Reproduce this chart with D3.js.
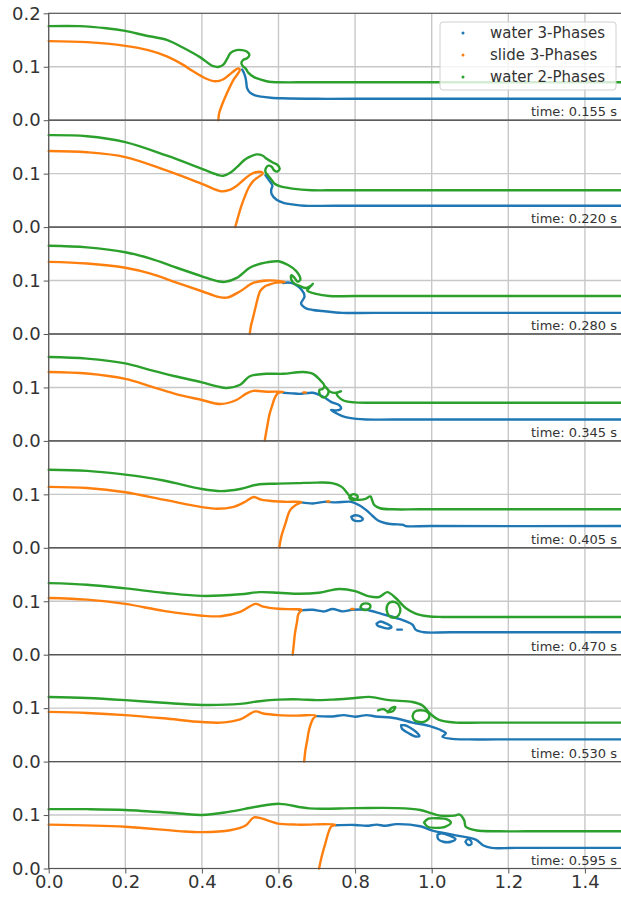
<!DOCTYPE html>
<html><head><meta charset="utf-8">
<script src="https://cdnjs.cloudflare.com/ajax/libs/d3/7.8.5/d3.min.js"></script>
<style>body{margin:0;background:#fff}svg{display:block}</style>
</head><body>
<svg id="chart" width="621" height="899"></svg>
<script>
// ---------------- data ----------------
const times = ["0.155","0.220","0.280","0.345","0.405","0.470","0.530","0.595"];
const seriesNames = ["water 3-Phases","slide 3-Phases","water 2-Phases"];
const xTicks = [0.0,0.2,0.4,0.6,0.8,1.0,1.2,1.4];
const yTicksTop = [0.0,0.1,0.2];
const yTicks = [0.0,0.1];

// water 3-Phases (blue): per panel, list of polylines [x,y]
const water3 = [
 [[[0.505,0.095],[0.51,0.088],[0.514,0.079],[0.516,0.070],[0.518,0.060],[0.525,0.052],[0.537,0.047],[0.555,0.044],[0.58,0.042],[0.61,0.041],[0.7,0.040],[0.8,0.040],[1.5,0.040]]],
 [[[0.566,0.097],[0.575,0.088],[0.584,0.078],[0.581,0.070],[0.582,0.062],[0.595,0.051],[0.615,0.045],[0.636,0.0425],[0.667,0.040],[0.75,0.040],[1.5,0.040]]],
 [[[0.612,0.0955],[0.633,0.0955],[0.66,0.083],[0.668,0.070],[0.659,0.057],[0.672,0.048],[0.69,0.045],[0.715,0.043],[0.767,0.0395],[0.85,0.0395],[1.5,0.0395]]],
 [[[0.612,0.090],[0.635,0.089],[0.655,0.088],[0.69,0.090],[0.716,0.083],[0.737,0.073],[0.76,0.066],[0.763,0.060],[0.752,0.057],[0.737,0.058],[0.745,0.054],[0.765,0.047],[0.785,0.043],[0.828,0.040],[0.9,0.040],[1.5,0.040]]],
 [[[0.66,0.085],[0.69,0.083],[0.72,0.086],[0.75,0.085],[0.79,0.086],[0.81,0.080],[0.83,0.070],[0.845,0.060],[0.86,0.051],[0.88,0.046],[0.9,0.044],[0.926,0.043],[0.93,0.041],[1.0,0.0407],[1.5,0.0407]],
  [[0.79,0.058],[0.80,0.061],[0.815,0.058],[0.82,0.053],[0.81,0.050],[0.795,0.052],[0.79,0.058]]],
 [[[0.654,0.083],[0.689,0.084],[0.72,0.081],[0.741,0.0855],[0.767,0.081],[0.793,0.084],[0.828,0.084],[0.871,0.076],[0.915,0.067],[0.95,0.056],[0.958,0.047],[0.98,0.042],[1.05,0.042],[1.5,0.042]],
  [[0.856,0.058],[0.866,0.062],[0.882,0.058],[0.895,0.052],[0.888,0.049],[0.872,0.051],[0.858,0.055],[0.856,0.058]],
  [[0.91,0.047],[0.922,0.047]]],
 [[[0.697,0.085],[0.741,0.0845],[0.77,0.087],[0.8,0.084],[0.83,0.087],[0.854,0.0845],[0.906,0.081],[0.95,0.073],[0.993,0.067],[1.019,0.0605],[1.037,0.053],[1.028,0.0465],[1.054,0.0425],[1.097,0.0415],[1.17,0.0415],[1.5,0.0415]],
  [[0.92,0.068],[0.93,0.068],[0.945,0.063],[0.96,0.055],[0.968,0.048],[0.958,0.047],[0.94,0.053],[0.922,0.062],[0.92,0.068]]],
 [[[0.748,0.081],[0.8,0.0815],[0.83,0.080],[0.856,0.082],[0.88,0.080],[0.908,0.083],[0.97,0.079],[1.0,0.0715],[1.063,0.062],[1.115,0.054],[1.135,0.043],[1.156,0.0386],[1.22,0.0386],[1.5,0.0386]],
  [[1.015,0.063],[1.025,0.066],[1.045,0.062],[1.062,0.055],[1.05,0.050],[1.03,0.050],[1.017,0.055],[1.015,0.063]],
  [[1.088,0.050],[1.094,0.055],[1.102,0.052],[1.104,0.046],[1.095,0.044],[1.088,0.050]]]
];

// slide 3-Phases (orange)
const slide3 = [
 [[[0,0.148],[0.1,0.146],[0.2,0.139],[0.26,0.131],[0.31,0.119],[0.35,0.104],[0.378,0.091],[0.41,0.078],[0.43,0.073],[0.445,0.0735],[0.456,0.0765],[0.47,0.084],[0.482,0.091],[0.495,0.097],[0.499,0.094],[0.482,0.075],[0.465,0.050],[0.452,0.028],[0.445,0.013],[0.443,0]]],
 [[[0,0.1425],[0.1,0.140],[0.2,0.131],[0.307,0.106],[0.40,0.081],[0.45,0.067],[0.47,0.069],[0.492,0.078],[0.51,0.089],[0.528,0.099],[0.545,0.103],[0.556,0.103],[0.559,0.100],[0.548,0.094],[0.535,0.087],[0.523,0.075],[0.512,0.057],[0.502,0.0375],[0.494,0.018],[0.487,0]]],
 [[[0,0.135],[0.1,0.132],[0.2,0.124],[0.266,0.113],[0.33,0.097],[0.4,0.080],[0.44,0.070],[0.465,0.068],[0.5,0.080],[0.534,0.0955],[0.569,0.100],[0.6,0.0995],[0.616,0.097],[0.594,0.096],[0.575,0.092],[0.564,0.089],[0.552,0.080],[0.547,0.070],[0.54,0.050],[0.534,0.032],[0.528,0.015],[0.525,0]]],
 [[[0,0.129],[0.1,0.126],[0.2,0.116],[0.266,0.102],[0.33,0.088],[0.4,0.0765],[0.448,0.069],[0.49,0.0765],[0.517,0.089],[0.534,0.0935],[0.57,0.092],[0.612,0.092],[0.598,0.089],[0.59,0.080],[0.583,0.065],[0.577,0.051],[0.57,0.025],[0.564,0]],
  [[0.665,0.0905],[0.671,0.0905]]],
 [[[0,0.114],[0.1,0.112],[0.2,0.104],[0.3,0.090],[0.4,0.076],[0.44,0.073],[0.48,0.076],[0.51,0.085],[0.535,0.095],[0.555,0.090],[0.59,0.087],[0.62,0.086],[0.66,0.0855],[0.645,0.080],[0.63,0.070],[0.618,0.045],[0.607,0.020],[0.602,0]],
  [[0.727,0.0865],[0.733,0.0865]]],
 [[[0,0.106],[0.1,0.103],[0.2,0.095],[0.3,0.082],[0.4,0.073],[0.45,0.072],[0.5,0.080],[0.54,0.095],[0.56,0.090],[0.6,0.086],[0.64,0.085],[0.66,0.084],[0.652,0.076],[0.648,0.060],[0.643,0.040],[0.64,0.020],[0.637,0]],
  [[0.79,0.0856],[0.796,0.0856]]],
 [[[0,0.093],[0.1,0.091],[0.2,0.087],[0.3,0.081],[0.4,0.074],[0.45,0.073],[0.5,0.079],[0.54,0.094],[0.56,0.090],[0.6,0.087],[0.65,0.086],[0.697,0.086],[0.69,0.080],[0.68,0.060],[0.675,0.040],[0.67,0.020],[0.667,0]]],
 [[[0,0.082],[0.2,0.078],[0.34,0.070],[0.4,0.068],[0.474,0.0715],[0.515,0.081],[0.536,0.0955],[0.577,0.0886],[0.598,0.084],[0.65,0.082],[0.748,0.082],[0.737,0.078],[0.722,0.046],[0.712,0.02],[0.706,0]]]
];

// water 2-Phases (green)
const water2 = [
 [[[0,0.176],[0.08,0.176],[0.15,0.172],[0.2,0.167],[0.25,0.159],[0.31,0.150],[0.35,0.136],[0.395,0.118],[0.43,0.101],[0.445,0.100],[0.456,0.104],[0.466,0.115],[0.475,0.126],[0.49,0.131],[0.505,0.131],[0.518,0.128],[0.524,0.122],[0.518,0.116],[0.508,0.113],[0.503,0.107],[0.507,0.101],[0.514,0.097],[0.521,0.089],[0.535,0.081],[0.552,0.0765],[0.575,0.072],[0.6,0.071],[0.7,0.071],[1.5,0.071]]],
 [[[0,0.172],[0.1,0.170],[0.2,0.159],[0.307,0.134],[0.40,0.109],[0.44,0.098],[0.456,0.096],[0.475,0.102],[0.492,0.1125],[0.51,0.125],[0.523,0.131],[0.543,0.136],[0.558,0.134],[0.569,0.128],[0.585,0.121],[0.598,0.116],[0.603,0.109],[0.597,0.104],[0.589,0.106],[0.582,0.113],[0.574,0.115],[0.567,0.110],[0.566,0.103],[0.572,0.097],[0.579,0.091],[0.59,0.081],[0.605,0.076],[0.636,0.072],[0.687,0.069],[0.76,0.069],[1.5,0.069]]],
 [[[0,0.165],[0.1,0.162],[0.2,0.153],[0.266,0.141],[0.33,0.125],[0.4,0.108],[0.44,0.099],[0.46,0.0975],[0.491,0.105],[0.525,0.124],[0.55,0.131],[0.569,0.134],[0.6,0.136],[0.625,0.129],[0.646,0.118],[0.657,0.102],[0.65,0.098],[0.642,0.105],[0.634,0.110],[0.633,0.103],[0.64,0.095],[0.655,0.090],[0.672,0.086],[0.684,0.090],[0.69,0.094],[0.68,0.086],[0.675,0.0815],[0.698,0.075],[0.733,0.071],[0.8,0.071],[1.5,0.071]]],
 [[[0,0.157],[0.1,0.154],[0.2,0.145],[0.266,0.1325],[0.33,0.121],[0.4,0.1095],[0.44,0.102],[0.465,0.099],[0.5,0.105],[0.525,0.121],[0.569,0.1255],[0.612,0.1255],[0.664,0.129],[0.69,0.1255],[0.707,0.115],[0.72,0.103],[0.715,0.097],[0.707,0.0955],[0.709,0.085],[0.718,0.081],[0.728,0.086],[0.73,0.095],[0.72,0.103],[0.735,0.092],[0.75,0.090],[0.763,0.093],[0.752,0.088],[0.767,0.0765],[0.8,0.072],[0.85,0.0713],[0.92,0.0713],[1.5,0.0713]]],
 [[[0,0.146],[0.1,0.144],[0.2,0.137],[0.3,0.126],[0.4,0.110],[0.45,0.106],[0.5,0.110],[0.55,0.119],[0.6,0.120],[0.65,0.121],[0.7,0.122],[0.74,0.121],[0.765,0.114],[0.78,0.102],[0.79,0.094],[0.805,0.090],[0.825,0.091],[0.84,0.096],[0.845,0.088],[0.85,0.080],[0.865,0.074],[0.9,0.072],[0.97,0.072],[1.5,0.072]],
  [[0.785,0.094],[0.79,0.099],[0.8,0.100],[0.807,0.095],[0.8,0.090],[0.79,0.090],[0.785,0.094]]],
 [[[0,0.134],[0.1,0.131],[0.2,0.124],[0.3,0.116],[0.4,0.110],[0.5,0.113],[0.55,0.117],[0.6,0.116],[0.654,0.114],[0.706,0.116],[0.758,0.123],[0.8,0.119],[0.837,0.109],[0.863,0.108],[0.884,0.117],[0.906,0.106],[0.932,0.0875],[0.958,0.077],[0.99,0.072],[1.028,0.0706],[1.1,0.0706],[1.5,0.0706]],
  [[0.814,0.089],[0.818,0.094],[0.828,0.096],[0.838,0.094],[0.840,0.089],[0.834,0.085],[0.822,0.084],[0.814,0.089]],
  [[0.882,0.085],[0.886,0.095],[0.897,0.099],[0.910,0.096],[0.918,0.086],[0.914,0.074],[0.902,0.069],[0.888,0.073],[0.882,0.085]]],
 [[[0,0.121],[0.1,0.119],[0.2,0.115],[0.3,0.110],[0.4,0.106],[0.5,0.108],[0.55,0.113],[0.6,0.116],[0.654,0.1165],[0.7,0.115],[0.741,0.116],[0.8,0.119],[0.837,0.121],[0.889,0.115],[0.95,0.1115],[0.976,0.105],[0.997,0.089],[1.019,0.078],[1.063,0.073],[1.13,0.073],[1.5,0.073]],
  [[0.95,0.085],[0.955,0.093],[0.97,0.096],[0.988,0.093],[0.994,0.085],[0.985,0.076],[0.968,0.074],[0.954,0.078],[0.95,0.085]],
  [[0.86,0.096],[0.875,0.098],[0.885,0.094],[0.895,0.100],[0.905,0.102],[0.898,0.094],[0.885,0.092]]],
 [[[0,0.111],[0.1,0.111],[0.2,0.1095],[0.34,0.103],[0.4,0.100],[0.47,0.106],[0.546,0.116],[0.603,0.121],[0.68,0.1125],[0.8,0.113],[0.908,0.113],[0.97,0.1095],[1.0,0.103],[1.022,0.099],[1.06,0.099],[1.073,0.101],[1.085,0.090],[1.089,0.078],[1.115,0.0715],[1.177,0.0696],[1.25,0.0696],[1.5,0.0696]],
  [[0.98,0.086],[0.99,0.093],[1.015,0.094],[1.04,0.092],[1.05,0.086],[1.035,0.078],[1.01,0.076],[0.99,0.078],[0.98,0.086]]]
];

const colors = ["#1f77b4","#ff7f0e","#2ca02c"];

// ---------------- layout ----------------
const svg = d3.select("#chart");
const left = 48.7, plotW = 574.5, top0 = 13.3, panelH = 106.9;
const font = "DejaVu Sans, sans-serif";
const x = d3.scaleLinear().domain([0,1.5]).range([left, left+plotW]);

const allSeries = [water3, slide3, water2];

times.forEach((t,i) => {
  const y0 = top0 + i*panelH;
  const y = d3.scaleLinear().domain([0,0.2]).range([y0+panelH, y0]);
  const g = svg.append("g");
  // grid
  g.selectAll("line.gx").data(xTicks).join("line")
    .attr("x1",d=>x(d)).attr("x2",d=>x(d)).attr("y1",y(0)).attr("y2",y(0.2))
    .attr("stroke","#c8c8c8").attr("stroke-width",1.4);
  g.append("line").attr("x1",x(0)).attr("x2",x(1.5)).attr("y1",y(0.1)).attr("y2",y(0.1))
    .attr("stroke","#c8c8c8").attr("stroke-width",1.4);
  // lines
  const line = d3.line().x(d=>x(d[0])).y(d=>y(d[1])).curve(d3.curveCatmullRom.alpha(0.5));
  allSeries.forEach((s,k)=>{
    g.selectAll("path.s"+k).data(s[i]).join("path")
      .attr("d",line).attr("fill","none").attr("stroke",colors[k])
      .attr("stroke-width",2.4).attr("stroke-linejoin","round").attr("stroke-linecap","round");
  });
  // spines
  g.append("rect").attr("x",x(0)).attr("y",y(0.2)).attr("width",plotW).attr("height",panelH)
    .attr("fill","none").attr("stroke","#555").attr("stroke-width",1.2);
  // y axis
  const ax = d3.axisLeft(y).tickValues(i===0?yTicksTop:yTicks).tickFormat(d3.format(".1f")).tickSize(5).tickPadding(3);
  const ag = g.append("g").attr("transform",`translate(${x(0)},0)`).call(ax);
  ag.select(".domain").remove();
  ag.selectAll("line").attr("stroke","#555");
  ag.selectAll("text").attr("font-family",font).attr("font-size",18).attr("fill","#333");
  // time label
  g.append("text").attr("x",617).attr("y",y(0)-4).attr("text-anchor","end")
    .attr("font-family",font).attr("font-size",13).attr("fill","#333").text(`time: ${t} s`);
  if(i===times.length-1){
    const bx = d3.axisBottom(x).tickValues(xTicks).tickFormat(d3.format(".1f")).tickSize(5).tickPadding(2);
    const bg = g.append("g").attr("transform",`translate(0,${y(0)})`).call(bx);
    bg.select(".domain").remove();
    bg.selectAll("line").attr("stroke","#555");
    bg.selectAll("text").attr("font-family",font).attr("font-size",18).attr("fill","#333");
  }
});

// legend
const lg = svg.append("g");
lg.append("rect").attr("x",440).attr("y",22).attr("width",176).attr("height",68).attr("rx",3)
  .attr("fill","#fff").attr("fill-opacity",0.8).attr("stroke","#d0d0d0");
seriesNames.forEach((n,k)=>{
  const yy = 33 + k*22;
  lg.append("circle").attr("cx",463).attr("cy",yy).attr("r",1.5).attr("fill",colors[k]);
  lg.append("text").attr("x",490).attr("y",yy).attr("dy","0.35em").attr("font-family",font)
    .attr("font-size",15).attr("fill","#333").text(n);
});
</script>
</body></html>
